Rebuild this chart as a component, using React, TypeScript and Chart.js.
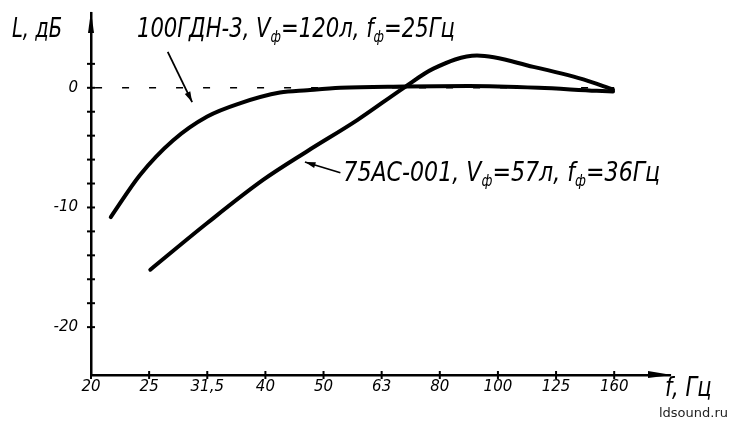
import React, { useEffect, useRef } from "react";
import { Chart, registerables } from "chart.js";

Chart.register(...registerables);

// Third-octave frequency bands (evenly spaced on the axis)
const bandLabels = ["20", "25", "31,5", "40", "50", "63", "80", "100", "125", "160"];
const bandIndex = [0, 1, 2, 3, 4, 5, 6, 7, 8, 9];

// Level axis ticks (dB)
const levelTicks = [-20, -18, -16, -14, -12, -10, -8, -6, -4, -2, 0, 2];
const levelLabelled = [0, -10, -20];

// 100ГДН-3, Vф=120л, fф=25Гц
const gdnX = [0.34, 0.84, 1.41, 2.0, 2.56, 3.25, 3.72, 4.29, 5.4, 6.5, 7.7, 8.7, 8.98];
const gdnY = [-10.8, -7.3, -4.4, -2.4, -1.3, -0.4, -0.2, 0, 0.1, 0.15, 0, -0.25, -0.3];

// 75АС-001, Vф=57л, fф=36Гц
const acX = [1.02, 2.0, 2.96, 3.72, 4.58, 5.38, 5.89, 6.64, 7.61, 8.47, 8.98];
const acY = [-15.2, -11.3, -7.7, -5.3, -2.7, 0, 1.6, 2.7, 1.75, 0.7, -0.15];

// 0 dB reference
const refX = [0.07, 9.0];
const refY = [0, 0];

const HAND = "italic 26px 'DejaVu Sans'";
const HAND_SUB = "italic 15px 'DejaVu Sans'";

type Seg = { t: string; sub?: boolean };
const label1: Seg[] = [
  { t: "100ГДН-3, V" }, { t: "ф", sub: true }, { t: "=120л, f" }, { t: "ф", sub: true }, { t: "=25Гц" },
];
const label2: Seg[] = [
  { t: "75АС-001, V" }, { t: "ф", sub: true }, { t: "=57л, f" }, { t: "ф", sub: true }, { t: "=36Гц" },
];

function drawSegs(ctx: CanvasRenderingContext2D, segs: Seg[], x0: number, x1: number, base: number) {
  let total = 0;
  const widths = segs.map((s) => {
    ctx.font = s.sub ? HAND_SUB : HAND;
    const w = ctx.measureText(s.t).width;
    total += w;
    return w;
  });
  const sx = (x1 - x0) / total;
  ctx.save();
  ctx.translate(x0, base);
  ctx.scale(sx, 1);
  ctx.textBaseline = "alphabetic";
  ctx.textAlign = "left";
  let cx = 0;
  segs.forEach((s, i) => {
    ctx.font = s.sub ? HAND_SUB : HAND;
    ctx.fillText(s.t, cx, s.sub ? 5 : 0);
    cx += widths[i];
  });
  ctx.restore();
}

function arrow(ctx: CanvasRenderingContext2D, x0: number, y0: number, x1: number, y1: number) {
  ctx.beginPath();
  ctx.moveTo(x0, y0);
  ctx.lineTo(x1, y1);
  ctx.stroke();
  const a = Math.atan2(y1 - y0, x1 - x0);
  const L = 11, W = 0.28;
  ctx.beginPath();
  ctx.moveTo(x1, y1);
  ctx.lineTo(x1 - L * Math.cos(a - W), y1 - L * Math.sin(a - W));
  ctx.lineTo(x1 - L * Math.cos(a + W), y1 - L * Math.sin(a + W));
  ctx.closePath();
  ctx.fill();
}

const decorPlugin = {
  id: "decor",
  afterDraw(chart: any) {
    const ctx: CanvasRenderingContext2D = chart.ctx;
    const xs = chart.scales.x;
    const ys = chart.scales.y;
    const area = chart.chartArea;
    const X = (v: number) => xs.getPixelForValue(v);
    const Y = (v: number) => ys.getPixelForValue(v);
    ctx.save();
    ctx.strokeStyle = "#000";
    ctx.fillStyle = "#000";
    ctx.lineWidth = 2;
    // cross ticks on y axis
    levelTicks.forEach((v) => {
      ctx.beginPath();
      ctx.moveTo(area.left - 4, Y(v));
      ctx.lineTo(area.left + 4, Y(v));
      ctx.stroke();
    });
    // cross ticks on x axis
    bandIndex.forEach((v) => {
      ctx.beginPath();
      ctx.moveTo(X(v), area.bottom - 4);
      ctx.lineTo(X(v), area.bottom + 4);
      ctx.stroke();
    });
    // axis arrowheads
    ctx.beginPath();
    ctx.moveTo(area.right + 2, area.bottom);
    ctx.lineTo(area.right - 22, area.bottom - 4);
    ctx.lineTo(area.right - 22, area.bottom + 3);
    ctx.closePath();
    ctx.fill();
    ctx.beginPath();
    ctx.moveTo(area.left, area.top - 2);
    ctx.lineTo(area.left - 3, area.top + 20);
    ctx.lineTo(area.left + 3, area.top + 20);
    ctx.closePath();
    ctx.fill();

    // annotation texts
    drawSegs(ctx, label1, X(0.79), X(6.26), Y(4.24));
    drawSegs(ctx, label2, X(4.34), X(9.79), Y(-7.79));

    // arrows
    ctx.lineWidth = 1.8;
    arrow(ctx, X(1.32), Y(3.0), X(1.74), Y(-1.2));
    arrow(ctx, X(4.29), Y(-7.1), X(3.68), Y(-6.2));

    // axis titles
    ctx.font = HAND;
    ctx.textAlign = "left";
    ctx.textBaseline = "alphabetic";
    ctx.save();
    ctx.translate(X(-1.36), Y(4.24));
    ctx.scale(0.75, 1);
    ctx.fillText("L, дБ", 0, 0);
    ctx.restore();
    ctx.save();
    ctx.font = "italic 27px 'DejaVu Sans'";
    ctx.translate(area.right - 5, area.bottom + 21);
    ctx.scale(0.78, 1);
    ctx.fillText("f, Гц", 0, 0);
    ctx.restore();

    // watermark
    ctx.font = "13px 'DejaVu Sans'";
    ctx.fillStyle = "#222";
    ctx.textAlign = "right";
    ctx.fillText("ldsound.ru", chart.width - 3, chart.height - 4);
    ctx.restore();
  },
};

export default function App() {
  const ref = useRef<HTMLCanvasElement | null>(null);
  useEffect(() => {
    document.body.style.margin = "0";
    if (!ref.current) return;
    const chart = new Chart(ref.current, {
      type: "line",
      data: {
        datasets: [
          {
            label: "0 dB",
            data: refX.map((x, i) => ({ x, y: refY[i] })),
            borderColor: "#000",
            borderWidth: 1.5,
            borderDash: [7, 20],
            pointRadius: 0,
          },
          {
            label: "100ГДН-3",
            data: gdnX.map((x, i) => ({ x, y: gdnY[i] })),
            borderColor: "#000",
            borderWidth: 4,
            pointRadius: 0,
            cubicInterpolationMode: "monotone",
            borderCapStyle: "round",
          },
          {
            label: "75АС-001",
            data: acX.map((x, i) => ({ x, y: acY[i] })),
            borderColor: "#000",
            borderWidth: 4,
            pointRadius: 0,
            cubicInterpolationMode: "monotone",
            borderCapStyle: "round",
          },
        ],
      },
      options: {
        animation: false,
        responsive: true,
        maintainAspectRatio: false,
        layout: { padding: { left: 0, top: 13, right: 61, bottom: 0 } },
        plugins: { legend: { display: false }, tooltip: { enabled: false } },
        scales: {
          x: {
            type: "linear",
            min: 0,
            max: 9.96,
            grid: { display: false, tickLength: 0 },
            border: { display: true, color: "#000", width: 2.5 },
            afterBuildTicks: (s: any) => {
              s.ticks = bandIndex.map((v) => ({ value: v }));
            },
            afterFit: (s: any) => {
              s.height = 46;
              s.paddingLeft = 0;
              s.paddingRight = 0;
            },
            ticks: {
              color: "#000",
              padding: 3,
              maxRotation: 0,
              autoSkip: false,
              font: { family: "'DejaVu Sans'", style: "italic", size: 15 },
              callback: (v: any) => bandLabels[Number(v)] ?? "",
            },
          },
          y: {
            type: "linear",
            min: -24,
            max: 6.25,
            grid: { display: false, tickLength: 0 },
            border: { display: true, color: "#000", width: 2.5 },
            afterBuildTicks: (s: any) => {
              s.ticks = levelTicks.map((v) => ({ value: v }));
            },
            afterFit: (s: any) => {
              s.width = 91;
              s.paddingTop = 0;
              s.paddingBottom = 0;
            },
            ticks: {
              color: "#000",
              padding: 13,
              autoSkip: false,
              font: { family: "'DejaVu Sans'", style: "italic", size: 15 },
              callback: (v: any) => (levelLabelled.includes(Number(v)) ? String(v) : ""),
            },
          },
        },
      },
      plugins: [decorPlugin],
    });
    return () => chart.destroy();
  }, []);
  return (
    <div style={{ position: "relative", width: 731, height: 421, background: "#fff" }}>
      <canvas ref={ref} />
    </div>
  );
}
